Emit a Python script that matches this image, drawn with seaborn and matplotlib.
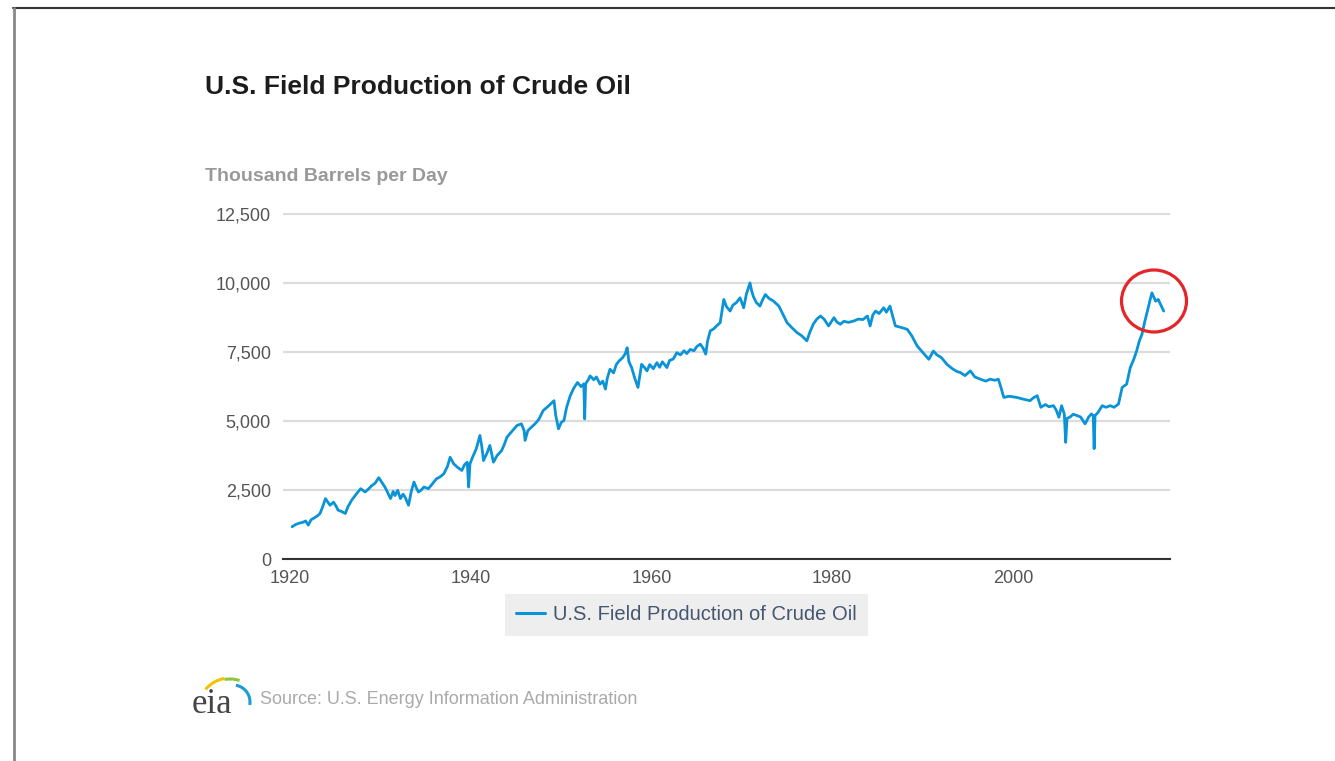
import matplotlib
matplotlib.use("Agg")
from matplotlib import pyplot as plt
from matplotlib.patches import Ellipse, Arc
from matplotlib.lines import Line2D
import pandas as pd
import seaborn as sns

# readings (year, thousand barrels per day), ten per row
years = [
    1920.2, 1920.6, 1921.0, 1921.4, 1921.7, 1922.0, 1922.3, 1922.6, 1923.0, 1923.3,
    1923.6, 1923.9, 1924.2, 1924.4, 1924.8, 1925.1, 1925.3, 1925.7, 1926.1, 1926.4,
    1926.8, 1927.3, 1927.8, 1928.3, 1928.7, 1929.0, 1929.4, 1929.8, 1930.2, 1930.5,
    1930.8, 1931.1, 1931.4, 1931.6, 1931.9, 1932.2, 1932.5, 1932.7, 1933.1, 1933.4,
    1933.7, 1934.0, 1934.2, 1934.5, 1934.8, 1935.3, 1935.8, 1936.2, 1936.6, 1937.0,
    1937.4, 1937.7, 1938.1, 1938.5, 1939.0, 1939.3, 1939.6, 1939.75, 1939.9, 1940.2,
    1940.6, 1941.0, 1941.2, 1941.4, 1941.8, 1942.1, 1942.5, 1942.9, 1943.4, 1943.7,
    1944.0, 1944.6, 1945.1, 1945.6, 1945.9, 1946.0, 1946.3, 1946.6, 1947.1, 1947.5,
    1948.0, 1948.6, 1949.2, 1949.4, 1949.7, 1950.0, 1950.3, 1950.6, 1951.0, 1951.4,
    1951.8, 1952.2, 1952.5, 1952.6, 1952.7, 1953.0, 1953.2, 1953.6, 1953.9, 1954.3,
    1954.6, 1954.9, 1955.1, 1955.4, 1955.8, 1956.1, 1956.4, 1956.8, 1957.1, 1957.3,
    1957.5, 1957.8, 1958.1, 1958.5, 1958.9, 1959.2, 1959.5, 1959.8, 1960.2, 1960.6,
    1960.9, 1961.2, 1961.7, 1962.0, 1962.4, 1962.8, 1963.2, 1963.6, 1963.9, 1964.3,
    1964.7, 1965.0, 1965.4, 1965.7, 1966.0, 1966.2, 1966.5, 1966.9, 1967.2, 1967.6,
    1968.0, 1968.3, 1968.7, 1969.0, 1969.4, 1969.8, 1970.2, 1970.5, 1970.9, 1971.1,
    1971.3, 1971.6, 1972.0, 1972.3, 1972.6, 1973.0, 1973.5, 1974.1, 1974.5, 1975.0,
    1975.5, 1976.1, 1976.6, 1977.2, 1977.5, 1977.9, 1978.3, 1978.7, 1979.1, 1979.6,
    1980.2, 1980.5, 1980.9, 1981.3, 1981.8, 1982.4, 1982.9, 1983.4, 1983.9, 1984.2,
    1984.5, 1984.8, 1985.2, 1985.7, 1986.0, 1986.4, 1986.7, 1987.0, 1987.6, 1988.3,
    1988.8, 1989.4, 1990.0, 1990.7, 1991.2, 1991.6, 1992.1, 1992.7, 1993.3, 1993.8,
    1994.2, 1994.7, 1995.3, 1995.8, 1996.4, 1997.0, 1997.5, 1998.0, 1998.4, 1998.7,
    1999.0, 1999.6, 2000.4, 2001.1, 2001.9, 2002.3, 2002.7, 2003.1, 2003.6, 2004.0,
    2004.5, 2004.8, 2005.1, 2005.4, 2005.7, 2005.85, 2006.0, 2006.3, 2006.7, 2007.1,
    2007.5, 2008.0, 2008.4, 2008.7, 2008.9, 2009.0, 2009.1, 2009.4, 2009.9, 2010.3,
    2010.8, 2011.2, 2011.7, 2012.1, 2012.6, 2013.0, 2013.4, 2013.7, 2014.0, 2014.3,
    2014.6, 2014.9, 2015.2, 2015.4, 2015.6, 2015.8, 2016.1, 2016.4, 2016.7,
]
production = [
    1170, 1250, 1300, 1330, 1380, 1230, 1420, 1480, 1560, 1650,
    1900, 2190, 2050, 1950, 2060, 1900, 1770, 1720, 1650, 1900,
    2130, 2350, 2550, 2430, 2550, 2650, 2750, 2950, 2750, 2600,
    2400, 2190, 2450, 2300, 2490, 2190, 2350, 2250, 1950, 2450,
    2790, 2550, 2430, 2500, 2610, 2550, 2750, 2910, 2980, 3090,
    3350, 3690, 3450, 3330, 3210, 3420, 3510, 2610, 3450, 3700,
    4000, 4480, 4100, 3570, 3850, 4120, 3510, 3750, 3930, 4150,
    4420, 4650, 4840, 4900, 4650, 4300, 4650, 4750, 4900, 5050,
    5380, 5550, 5740, 5200, 4720, 4950, 5020, 5500, 5920, 6200,
    6400, 6250, 6350, 5080, 6350, 6500, 6640, 6500, 6600, 6340,
    6450, 6160, 6550, 6880, 6750, 7050, 7180, 7300, 7450, 7660,
    7150, 6940, 6600, 6220, 7060, 6950, 6820, 7050, 6900, 7120,
    6950, 7150, 6940, 7200, 7250, 7480, 7400, 7550, 7450, 7600,
    7550, 7700, 7790, 7650, 7430, 7900, 8270, 8350, 8450, 8570,
    9410, 9150, 8990, 9200, 9300, 9470, 9110, 9600, 10010, 9700,
    9500, 9300, 9170, 9400, 9590, 9450, 9350, 9170, 8900, 8570,
    8400, 8210, 8100, 7910, 8200, 8510, 8700, 8810, 8700, 8450,
    8750, 8600, 8510, 8620, 8580, 8630, 8700, 8680, 8810, 8450,
    8850, 8990, 8900, 9110, 8950, 9170, 8800, 8450, 8400, 8330,
    8100, 7730, 7500, 7240, 7540, 7400, 7300, 7060, 6900, 6800,
    6760, 6650, 6820, 6600, 6520, 6450, 6520, 6480, 6520, 6200,
    5860, 5900, 5860, 5800, 5740, 5850, 5920, 5500, 5600, 5520,
    5560, 5400, 5140, 5560, 5250, 4230, 5100, 5140, 5250, 5200,
    5150, 4900, 5150, 5260, 5200, 4000, 5200, 5300, 5560, 5500,
    5560, 5500, 5620, 6220, 6340, 6940, 7250, 7540, 7900, 8150,
    8600, 8990, 9400, 9650, 9500, 9350, 9410, 9200, 8990,
]

x_ticks = [1920, 1940, 1960, 1980, 2000]
y_ticks = [0, 2500, 5000, 7500, 10000, 12500]
y_labels = ["0", "2,500", "5,000", "7,500", "10,000", "12,500"]

series_name = "U.S. Field Production of Crude Oil"
df = pd.DataFrame({"Year": years, "kbd": production, "series": series_name})

sns.set_style("white")
plt.rcParams["font.family"] = ["Liberation Sans", "DejaVu Sans"]

W, H = 1335, 761
fig = plt.figure(figsize=(W / 100, H / 100), dpi=100)
ax = fig.add_axes([283 / W, 1 - 559 / H, (1170 - 283) / W, (559 - 212.6) / H])

sns.lineplot(data=df, x="Year", y="kbd", hue="series", palette=["#0a93d6"],
             estimator=None, linewidth=2.0, ax=ax)

ax.set_xlim(1919.2, 2017.4)
ax.set_ylim(0, 12560)
ax.set_xticks(x_ticks)
ax.set_yticks(y_ticks)
ax.set_yticklabels(y_labels)
ax.set_xlabel("")
ax.set_ylabel("")
ax.yaxis.grid(True, color="#dcdcdc", linewidth=1.6)
ax.xaxis.grid(False)
for side in ["left", "right", "top"]:
    ax.spines[side].set_visible(False)
ax.spines["bottom"].set_color("#333333")
ax.spines["bottom"].set_linewidth(1.5)
ax.tick_params(axis="y", length=0, pad=8.6, labelsize=13, labelcolor="#555555")
ax.tick_params(axis="x", direction="inout", length=5, width=1.2, color="#333333",
               pad=5.5, labelsize=13, labelcolor="#555555")

leg = ax.legend(loc="center", bbox_to_anchor=(0.5142, 1 - 615 / H),
                bbox_transform=fig.transFigure, frameon=True, fancybox=False,
                facecolor="#eeeeee", edgecolor="none", framealpha=1,
                fontsize=14.5, handlelength=1.4, handletextpad=0.4, borderpad=0.55)
for t in leg.get_texts():
    t.set_color("#465670")
for l in leg.get_lines():
    l.set_linewidth(2.2)

fig.text(205 / W, 1 - 94 / H, "U.S. Field Production of Crude Oil", fontsize=19,
         fontweight="bold", color="#1c1c1c", va="baseline")
fig.text(205 / W, 1 - 181 / H, "Thousand Barrels per Day", fontsize=14,
         fontweight="bold", color="#999999", va="baseline")
fig.text(260 / W, 1 - 704 / H, "Source: U.S. Energy Information Administration",
         fontsize=13, color="#aaaaaa", va="baseline")

# red circle highlighting the recent peak
fig.patches.append(Ellipse((1154 / W, 1 - 301 / H), 65 / W, 62 / H, transform=fig.transFigure,
                           fill=False, edgecolor="#e3262a", linewidth=2.3))

# eia logo
logo = fig.add_axes([185 / W, 1 - 718 / H, 75 / W, 50 / H])
logo.set_xlim(0, 75)
logo.set_ylim(0, 50)
logo.axis("off")
logo.text(7, 5, "eia", fontsize=25, family="Liberation Serif", color="#444444", va="baseline")
logo.add_patch(Arc((45, 8), 64, 64, theta1=100, theta2=140, color="#f2c300", linewidth=2.2))
logo.add_patch(Arc((45, 8), 62, 62, theta1=72, theta2=100, color="#8cc63f", linewidth=2.2))
logo.add_patch(Arc((48, 16), 34, 34, theta1=-10, theta2=80, color="#1e9ad6", linewidth=2.2))

# page frame
fig.add_artist(Line2D([13 / W, 1], [1 - 8 / H, 1 - 8 / H], transform=fig.transFigure,
                      color="#333333", linewidth=1.5))
fig.add_artist(Line2D([14 / W, 14 / W], [0, 1 - 8 / H], transform=fig.transFigure,
                      color="#888888", linewidth=2))

fig.savefig("out.png", dpi=100)
